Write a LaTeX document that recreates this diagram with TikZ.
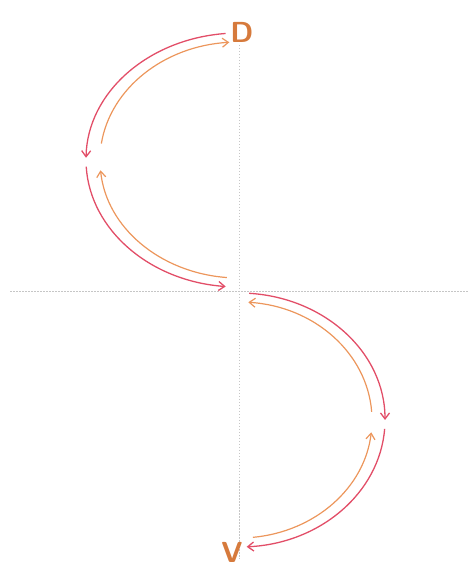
\documentclass[tikz,border=0pt]{standalone}
\usepackage{tikz}
\usetikzlibrary{arrows.meta}

\definecolor{arcred}{RGB}{226,78,104}
\definecolor{arcorange}{RGB}{236,150,92}
\definecolor{lettercol}{RGB}{214,122,60}

\begin{document}
\begin{tikzpicture}[x=1pt, y=1pt,
    axisline/.style={gray!45, line width=0.5pt, dash pattern=on 1.5pt off 1.5pt},
    redarc/.style={arcred, line width=1.3pt, -{Straight Barb[length=6pt,width=9pt]}},
    orangearc/.style={arcorange, line width=1.2pt, -{Straight Barb[length=6pt,width=9pt]}},
    letter/.style={lettercol, font=\fontsize{29}{29}\selectfont\sffamily\bfseries}]
            \useasboundingbox (0,0) rectangle (468,567);
            % axes
            \coordinate (ytop) at (239,522);
            \coordinate (ybot) at (239,8);
            \coordinate (xleft) at (10,276);
            \coordinate (xright) at (468,276);
            \draw[axisline] (ytop) -- (ybot);
            \draw[axisline] (xleft) -- (xright);
            % labels
            \node[letter] (D) at (242,535) {D};
            \node[letter] (V) at (232,15) {V};
            % upper half
            \coordinate (up) at (239,407);
            \draw[redarc] (up) ++(95:153 and 127) arc[start angle=95, end angle=179, x radius=153, y radius=127];
            \draw[redarc] (up) ++(183:153 and 127) arc[start angle=183, end angle=265, x radius=153, y radius=127];
            \draw[orangearc] (up) ++(172:139 and 118) arc[start angle=172, end angle=94, x radius=139, y radius=118];
            \draw[orangearc] (up) ++(265:139 and 118) arc[start angle=265, end angle=185, x radius=139, y radius=118];
            % lower half
            \coordinate (low) at (239,147);
            \draw[redarc] (low) ++(86:146 and 127) arc[start angle=86, end angle=0, x radius=146, y radius=127];
            \draw[redarc] (low) ++(-4:146 and 127) arc[start angle=-4, end angle=-87, x radius=146, y radius=127];
            \draw[orangearc] (low) ++(-84:133 and 118) arc[start angle=-84, end angle=-6, x radius=133, y radius=118];
            \draw[orangearc] (low) ++(4:133 and 118) arc[start angle=4, end angle=86, x radius=133, y radius=118];
        \end{tikzpicture}
\end{document}
